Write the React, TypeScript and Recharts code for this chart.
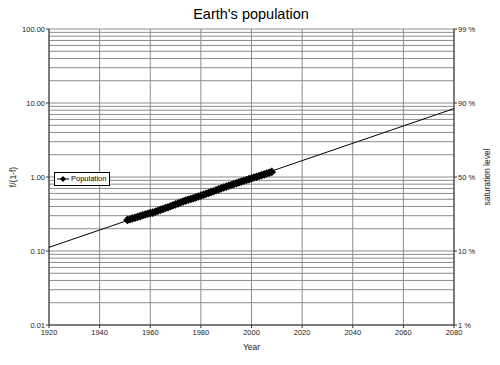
import React from 'react';
import {
  ComposedChart,
  Scatter,
  XAxis,
  YAxis,
  CartesianGrid,
  Label,
} from 'recharts';

const years = [
  1951, 1952, 1953, 1954, 1955, 1956, 1957, 1958, 1959, 1960,
  1961, 1962, 1963, 1964, 1965, 1966, 1967, 1968, 1969, 1970,
  1971, 1972, 1973, 1974, 1975, 1976, 1977, 1978, 1979, 1980,
  1981, 1982, 1983, 1984, 1985, 1986, 1987, 1988, 1989, 1990,
  1991, 1992, 1993, 1994, 1995, 1996, 1997, 1998, 1999, 2000,
  2001, 2002, 2003, 2004, 2005, 2006, 2007, 2008,
];
const ratios = [
  0.263, 0.269, 0.276, 0.282, 0.289, 0.296, 0.304, 0.312, 0.319, 0.325,
  0.33, 0.339, 0.349, 0.36, 0.37, 0.381, 0.391, 0.403, 0.416, 0.427,
  0.44, 0.453, 0.466, 0.48, 0.492, 0.505, 0.517, 0.531, 0.546, 0.56,
  0.575, 0.592, 0.608, 0.625, 0.643, 0.662, 0.68, 0.701, 0.722, 0.742,
  0.761, 0.781, 0.802, 0.824, 0.845, 0.867, 0.89, 0.913, 0.935, 0.959,
  0.983, 1.007, 1.032, 1.06, 1.084, 1.112, 1.141, 1.172,
];

// fitted logistic trend, end points
const trendYears = [1920, 2080];
const trendRatios = [0.112, 8.4];

const xTicks = [1920, 1940, 1960, 1980, 2000, 2020, 2040, 2060, 2080];
const decadeTicks = [0.01, 0.1, 1, 10, 100];
const leftLabels = ['0.01', '0.10', '1.00', '10.00', '100.00'];
const rightLabels = ['1 %', '10 %', '50 %', '90 %', '99 %'];
const minorTicks = [
  0.01, 0.02, 0.03, 0.04, 0.05, 0.06, 0.07, 0.08, 0.09,
  0.1, 0.2, 0.3, 0.4, 0.5, 0.6, 0.7, 0.8, 0.9,
  1, 2, 3, 4, 5, 6, 7, 8, 9,
  10, 20, 30, 40, 50, 60, 70, 80, 90, 100,
];

const points = years.map((year, i) => ({ year, ratio: ratios[i] }));
const trend = trendYears.map((year, i) => ({ year, ratio: trendRatios[i] }));

const FONT = '"Liberation Sans", Arial, sans-serif';
const tickStyle = { fontSize: 7.5, fill: '#222', fontFamily: FONT };

const Diamond = (props: any) => {
  const { cx, cy } = props;
  if (cx == null || cy == null) return <g />;
  const r = 4.3;
  return (
    <polygon
      points={`${cx},${cy - r} ${cx + r},${cy} ${cx},${cy + r} ${cx - r},${cy}`}
      fill="#000"
    />
  );
};

// left axis: every log step feeds the grid, only decades get a label and tick mark
const LeftTick = (props: any) => {
  const { x, y, payload } = props;
  const idx = decadeTicks.indexOf(payload.value);
  if (idx < 0) return <g />;
  return (
    <g>
      <line x1={x + 1} y1={y} x2={x + 4} y2={y} stroke="#333" />
      <text
        x={x}
        y={y}
        textAnchor="end"
        dominantBaseline="central"
        fontSize={7.5}
        fontFamily={FONT}
        fill="#222"
      >
        {leftLabels[idx]}
      </text>
    </g>
  );
};

const LegendBox = () => (
  <div
    style={{
      position: 'absolute',
      left: 54,
      top: 172,
      border: '1px solid #000',
      background: '#fff',
      display: 'flex',
      alignItems: 'center',
      padding: '1px 3px 1px 2px',
      fontFamily: FONT,
      fontSize: 7.5,
      color: '#000',
      lineHeight: '10px',
    }}
  >
    <svg width={12} height={8} style={{ marginRight: 2 }}>
      <line x1={0} y1={4} x2={12} y2={4} stroke="#000" strokeWidth={1} />
      <polygon points="6,1 9,4 6,7 3,4" fill="#000" />
    </svg>
    Population
  </div>
);

export default function App() {
  return (
    <div
      style={{
        position: 'absolute',
        left: 0,
        top: 0,
        width: 500,
        height: 365,
        background: '#fff',
      }}
    >
      <div
        style={{
          position: 'absolute',
          left: 0,
          top: 6,
          width: 502,
          textAlign: 'center',
          fontFamily: FONT,
          fontSize: 14.5,
          color: '#000',
        }}
      >
        Earth's population
      </div>
      <ComposedChart
        width={500}
        height={365}
        margin={{ top: 29, right: 0, bottom: 0, left: 0 }}
      >
        <CartesianGrid
          yAxisId="left"
          stroke="#8c8c8c"
          strokeWidth={1}
          fill="none"
        />
        <XAxis
          dataKey="year"
          type="number"
          domain={[1920, 2080]}
          ticks={xTicks}
          height={40}
          tickSize={3}
          tickMargin={2}
          stroke="#333"
          tick={tickStyle}
          allowDataOverflow
        >
          <Label
            content={(p: any) => {
              const vb = p.viewBox || {};
              return (
                <text
                  x={vb.x + vb.width / 2}
                  y={vb.y + 25}
                  textAnchor="middle"
                  fontSize={8.5}
                  fontFamily={FONT}
                  fill="#222"
                >
                  Year
                </text>
              );
            }}
          />
        </XAxis>
        <YAxis
          yAxisId="left"
          dataKey="ratio"
          scale="log"
          domain={[0.01, 100]}
          ticks={minorTicks}
          interval={0}
          tick={<LeftTick />}
          tickLine={false}
          width={49}
          tickSize={3}
          tickMargin={1}
          stroke="#333"
          allowDataOverflow
        >
          <Label
            content={(p: any) => {
              const vb = p.viewBox || {};
              const cx = vb.x + 13;
              const cy = vb.y + vb.height / 2;
              return (
                <text
                  x={cx}
                  y={cy}
                  transform={`rotate(-90 ${cx} ${cy})`}
                  textAnchor="middle"
                  dominantBaseline="central"
                  fontSize={8.5}
                  fontFamily={FONT}
                  fill="#222"
                >
                  f/(1-f)
                </text>
              );
            }}
          />
        </YAxis>
        <YAxis
          yAxisId="right"
          orientation="right"
          scale="log"
          domain={[0.01, 100]}
          ticks={decadeTicks}
          interval={0}
          tickFormatter={(v: number) => rightLabels[decadeTicks.indexOf(v)] ?? ''}
          width={46}
          tickSize={3}
          tickMargin={1}
          stroke="#333"
          tick={tickStyle}
          allowDataOverflow
        >
          <Label
            content={(p: any) => {
              const vb = p.viewBox || {};
              const cx = vb.x + 33;
              const cy = vb.y + vb.height / 2;
              return (
                <text
                  x={cx}
                  y={cy}
                  transform={`rotate(-90 ${cx} ${cy})`}
                  textAnchor="middle"
                  dominantBaseline="central"
                  fontSize={8.5}
                  fontFamily={FONT}
                  fill="#222"
                >
                  saturation level
                </text>
              );
            }}
          />
        </YAxis>
        <Scatter
          yAxisId="left"
          name="Trend"
          data={trend}
          dataKey="ratio"
          line={{ stroke: '#000', strokeWidth: 1 }}
          shape={() => <g />}
          legendType="none"
          isAnimationActive={false}
        />
        <Scatter
          yAxisId="left"
          name="Population"
          data={points}
          dataKey="ratio"
          shape={<Diamond />}
          isAnimationActive={false}
        />
      </ComposedChart>
      <LegendBox />
    </div>
  );
}
